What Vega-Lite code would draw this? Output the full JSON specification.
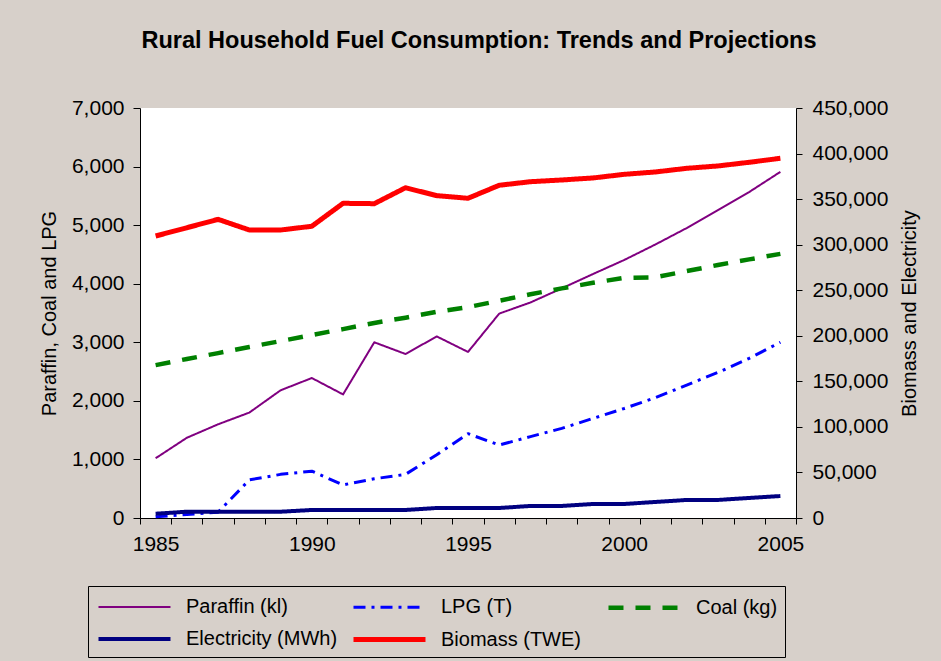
{
  "$schema": "https://vega.github.io/schema/vega-lite/v6.json",
  "width": 656,
  "height": 410,
  "autosize": {"type": "none"},
  "padding": {"left": 140, "top": 108, "right": 145, "bottom": 143},
  "background": "#D7D0CA",
  "title": {
    "text": "Rural Household Fuel Consumption: Trends and Projections",
    "frame": "group",
    "anchor": "middle",
    "dx": 11,
    "offset": 26,
    "baseline": "alphabetic",
    "fontSize": 23.5,
    "fontWeight": "bold",
    "font": "Liberation Sans",
    "color": "black"
  },
  "config": {
    "font": "Liberation Sans",
    "view": {"stroke": null, "fill": "white"},
    "axis": {
      "labelFontSize": 21,
      "titleFontSize": 20,
      "labelColor": "black",
      "titleColor": "black",
      "titleFontWeight": "normal",
      "domainColor": "black",
      "tickColor": "black",
      "grid": false,
      "labelFont": "Liberation Sans",
      "titleFont": "Liberation Sans"
    },
    "legend": {
      "orient": "none",
      "legendX": -52,
      "legendY": 478,
      "direction": "horizontal",
      "columns": 3,
      "gridAlign": "all",
      "symbolType": "M-0.917,0H5.083",
      "symbolSize": 576,
      "labelFontSize": 20,
      "labelFont": "Liberation Sans",
      "labelColor": "black",
      "labelOffset": 62,
      "columnPadding": 5,
      "rowPadding": 7,
      "padding": 7,
      "strokeColor": "black",
      "fillColor": "#D7D0CA",
      "cornerRadius": 0,
      "labelLimit": 400
    }
  },
  "data": {
    "values": [
      {"year": 1985, "series": "Paraffin (kl)", "value": 1020},
      {"year": 1986, "series": "Paraffin (kl)", "value": 1370},
      {"year": 1987, "series": "Paraffin (kl)", "value": 1600},
      {"year": 1988, "series": "Paraffin (kl)", "value": 1800},
      {"year": 1989, "series": "Paraffin (kl)", "value": 2180},
      {"year": 1990, "series": "Paraffin (kl)", "value": 2390},
      {"year": 1991, "series": "Paraffin (kl)", "value": 2110},
      {"year": 1992, "series": "Paraffin (kl)", "value": 3000},
      {"year": 1993, "series": "Paraffin (kl)", "value": 2800},
      {"year": 1994, "series": "Paraffin (kl)", "value": 3100},
      {"year": 1995, "series": "Paraffin (kl)", "value": 2835},
      {"year": 1996, "series": "Paraffin (kl)", "value": 3490},
      {"year": 1997, "series": "Paraffin (kl)", "value": 3680},
      {"year": 1998, "series": "Paraffin (kl)", "value": 3920},
      {"year": 1999, "series": "Paraffin (kl)", "value": 4165},
      {"year": 2000, "series": "Paraffin (kl)", "value": 4405},
      {"year": 2001, "series": "Paraffin (kl)", "value": 4670},
      {"year": 2002, "series": "Paraffin (kl)", "value": 4950},
      {"year": 2003, "series": "Paraffin (kl)", "value": 5255},
      {"year": 2004, "series": "Paraffin (kl)", "value": 5565},
      {"year": 2005, "series": "Paraffin (kl)", "value": 5910},
      {"year": 1985, "series": "LPG (T)", "value": 20},
      {"year": 1986, "series": "LPG (T)", "value": 60},
      {"year": 1987, "series": "LPG (T)", "value": 100},
      {"year": 1988, "series": "LPG (T)", "value": 650},
      {"year": 1989, "series": "LPG (T)", "value": 745},
      {"year": 1990, "series": "LPG (T)", "value": 800},
      {"year": 1991, "series": "LPG (T)", "value": 565},
      {"year": 1992, "series": "LPG (T)", "value": 670},
      {"year": 1993, "series": "LPG (T)", "value": 745},
      {"year": 1994, "series": "LPG (T)", "value": 1080},
      {"year": 1995, "series": "LPG (T)", "value": 1440},
      {"year": 1996, "series": "LPG (T)", "value": 1245},
      {"year": 1997, "series": "LPG (T)", "value": 1390},
      {"year": 1998, "series": "LPG (T)", "value": 1530},
      {"year": 1999, "series": "LPG (T)", "value": 1700},
      {"year": 2000, "series": "LPG (T)", "value": 1870},
      {"year": 2001, "series": "LPG (T)", "value": 2055},
      {"year": 2002, "series": "LPG (T)", "value": 2270},
      {"year": 2003, "series": "LPG (T)", "value": 2485},
      {"year": 2004, "series": "LPG (T)", "value": 2725},
      {"year": 2005, "series": "LPG (T)", "value": 3000},
      {"year": 1985, "series": "Coal (kg)", "value": 2610},
      {"year": 1986, "series": "Coal (kg)", "value": 2715},
      {"year": 1987, "series": "Coal (kg)", "value": 2815},
      {"year": 1988, "series": "Coal (kg)", "value": 2920},
      {"year": 1989, "series": "Coal (kg)", "value": 3020},
      {"year": 1990, "series": "Coal (kg)", "value": 3125},
      {"year": 1991, "series": "Coal (kg)", "value": 3225},
      {"year": 1992, "series": "Coal (kg)", "value": 3330},
      {"year": 1993, "series": "Coal (kg)", "value": 3420},
      {"year": 1994, "series": "Coal (kg)", "value": 3520},
      {"year": 1995, "series": "Coal (kg)", "value": 3600},
      {"year": 1996, "series": "Coal (kg)", "value": 3710},
      {"year": 1997, "series": "Coal (kg)", "value": 3820},
      {"year": 1998, "series": "Coal (kg)", "value": 3920},
      {"year": 1999, "series": "Coal (kg)", "value": 4015},
      {"year": 2000, "series": "Coal (kg)", "value": 4100},
      {"year": 2001, "series": "Coal (kg)", "value": 4110},
      {"year": 2002, "series": "Coal (kg)", "value": 4215},
      {"year": 2003, "series": "Coal (kg)", "value": 4320},
      {"year": 2004, "series": "Coal (kg)", "value": 4415},
      {"year": 2005, "series": "Coal (kg)", "value": 4510},
      {"year": 1985, "series": "Electricity (MWh)", "value": 4700},
      {"year": 1986, "series": "Electricity (MWh)", "value": 6900},
      {"year": 1987, "series": "Electricity (MWh)", "value": 6900},
      {"year": 1988, "series": "Electricity (MWh)", "value": 6900},
      {"year": 1989, "series": "Electricity (MWh)", "value": 6900},
      {"year": 1990, "series": "Electricity (MWh)", "value": 8800},
      {"year": 1991, "series": "Electricity (MWh)", "value": 8800},
      {"year": 1992, "series": "Electricity (MWh)", "value": 8800},
      {"year": 1993, "series": "Electricity (MWh)", "value": 8800},
      {"year": 1994, "series": "Electricity (MWh)", "value": 11000},
      {"year": 1995, "series": "Electricity (MWh)", "value": 11000},
      {"year": 1996, "series": "Electricity (MWh)", "value": 11000},
      {"year": 1997, "series": "Electricity (MWh)", "value": 13200},
      {"year": 1998, "series": "Electricity (MWh)", "value": 13200},
      {"year": 1999, "series": "Electricity (MWh)", "value": 15400},
      {"year": 2000, "series": "Electricity (MWh)", "value": 15400},
      {"year": 2001, "series": "Electricity (MWh)", "value": 17600},
      {"year": 2002, "series": "Electricity (MWh)", "value": 19800},
      {"year": 2003, "series": "Electricity (MWh)", "value": 19800},
      {"year": 2004, "series": "Electricity (MWh)", "value": 22000},
      {"year": 2005, "series": "Electricity (MWh)", "value": 24100},
      {"year": 1985, "series": "Biomass (TWE)", "value": 309500},
      {"year": 1986, "series": "Biomass (TWE)", "value": 318600},
      {"year": 1987, "series": "Biomass (TWE)", "value": 327800},
      {"year": 1988, "series": "Biomass (TWE)", "value": 316100},
      {"year": 1989, "series": "Biomass (TWE)", "value": 316100},
      {"year": 1990, "series": "Biomass (TWE)", "value": 320200},
      {"year": 1991, "series": "Biomass (TWE)", "value": 345400},
      {"year": 1992, "series": "Biomass (TWE)", "value": 345000},
      {"year": 1993, "series": "Biomass (TWE)", "value": 362500},
      {"year": 1994, "series": "Biomass (TWE)", "value": 353800},
      {"year": 1995, "series": "Biomass (TWE)", "value": 350900},
      {"year": 1996, "series": "Biomass (TWE)", "value": 365200},
      {"year": 1997, "series": "Biomass (TWE)", "value": 369100},
      {"year": 1998, "series": "Biomass (TWE)", "value": 371000},
      {"year": 1999, "series": "Biomass (TWE)", "value": 373200},
      {"year": 2000, "series": "Biomass (TWE)", "value": 377200},
      {"year": 2001, "series": "Biomass (TWE)", "value": 379800},
      {"year": 2002, "series": "Biomass (TWE)", "value": 383800},
      {"year": 2003, "series": "Biomass (TWE)", "value": 386400},
      {"year": 2004, "series": "Biomass (TWE)", "value": 390400},
      {"year": 2005, "series": "Biomass (TWE)", "value": 394800}
    ]
  },
  "encoding": {
    "x": {
      "field": "year",
      "type": "ordinal",
      "scale": {"type": "band", "paddingInner": 0, "paddingOuter": 0},
      "axis": {
        "title": null,
        "tickBand": "extent",
        "labelExpr": "(datum.value % 5 == 0) ? ('' + datum.value) : ''",
        "labelAngle": 0,
        "tickSize": 6,
        "labelPadding": 9,
        "labelOverlap": false
      }
    },
    "color": {
      "field": "series",
      "type": "nominal",
      "scale": {
        "domain": ["Paraffin (kl)", "LPG (T)", "Coal (kg)", "Electricity (MWh)", "Biomass (TWE)"],
        "range": ["#800080", "#0000FF", "#008000", "#000080", "#FF0000"]
      },
      "legend": {"title": null}
    },
    "strokeDash": {
      "field": "series",
      "type": "nominal",
      "scale": {
        "domain": ["Paraffin (kl)", "LPG (T)", "Coal (kg)", "Electricity (MWh)", "Biomass (TWE)"],
        "range": [[1, 0], [12, 6, 3, 6], [15, 12], [1, 0], [1, 0]]
      },
      "legend": {"title": null}
    },
    "strokeWidth": {
      "field": "series",
      "type": "ordinal",
      "scale": {
        "type": "ordinal",
        "domain": ["Paraffin (kl)", "LPG (T)", "Coal (kg)", "Electricity (MWh)", "Biomass (TWE)"],
        "range": [2, 3, 4.5, 4, 5]
      },
      "legend": {"title": null}
    }
  },
  "layer": [
    {
      "transform": [{"filter": {"field": "series", "oneOf": ["Paraffin (kl)", "LPG (T)", "Coal (kg)"]}}],
      "mark": {"type": "line", "strokeJoin": "round"},
      "encoding": {
        "y": {
          "field": "value",
          "type": "quantitative",
          "scale": {"domain": [0, 7000], "nice": false},
          "axis": {
            "title": "Paraffin, Coal and LPG",
            "orient": "left",
            "values": [0, 1000, 2000, 3000, 4000, 5000, 6000, 7000],
            "format": ",d",
            "tickSize": 7,
            "labelPadding": 9,
            "titlePadding": 12
          }
        }
      }
    },
    {
      "transform": [{"filter": {"field": "series", "oneOf": ["Electricity (MWh)", "Biomass (TWE)"]}}],
      "mark": {"type": "line", "strokeJoin": "round"},
      "encoding": {
        "y": {
          "field": "value",
          "type": "quantitative",
          "scale": {"domain": [0, 450000], "nice": false},
          "axis": {
            "title": "Biomass and Electricity",
            "orient": "right",
            "values": [0, 50000, 100000, 150000, 200000, 250000, 300000, 350000, 400000, 450000],
            "format": ",d",
            "tickSize": 6,
            "labelPadding": 10,
            "titlePadding": 12,
            "titleAngle": 270,
            "titleBaseline": "top"
          }
        }
      }
    }
  ],
  "resolve": {"scale": {"y": "independent"}}
}
